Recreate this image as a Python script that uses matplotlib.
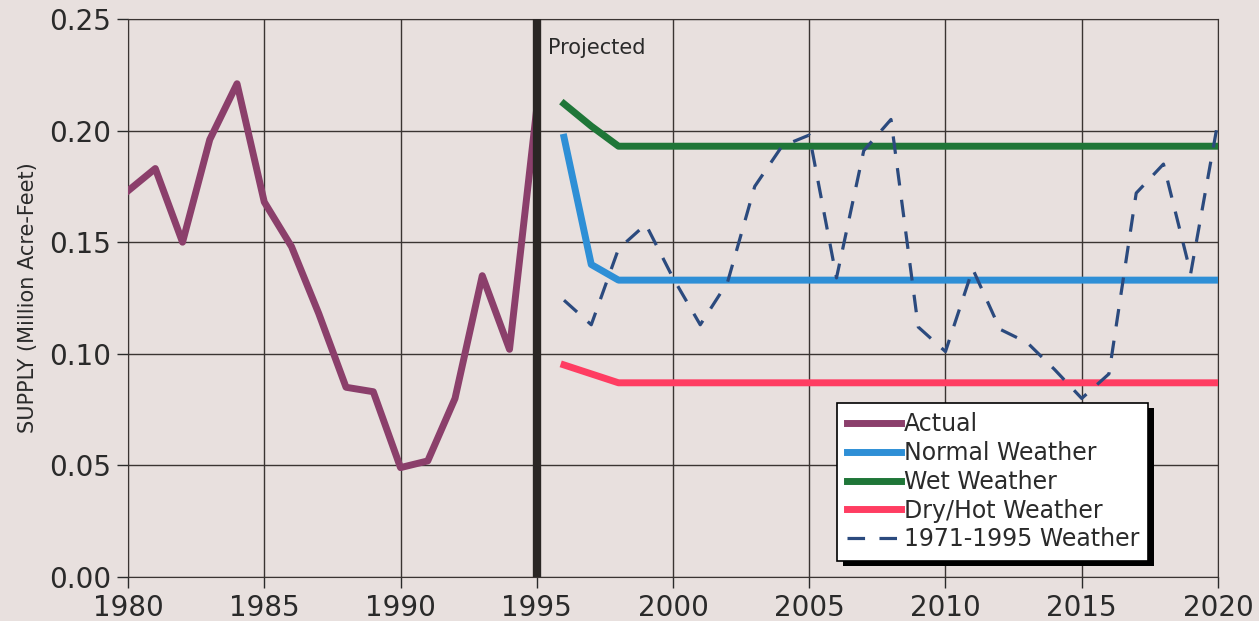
import matplotlib.pyplot as plt
import matplotlib.patheffects as pe

# actual supply 1980-1995
actual_years = list(range(1980, 1996))
actual = [0.173, 0.183, 0.150, 0.196, 0.221, 0.168, 0.148, 0.118,
          0.085, 0.083, 0.049, 0.052, 0.080, 0.135, 0.102, 0.210]

# projections 1996-2020
proj_years = list(range(1996, 2021))
normal = [0.197, 0.140] + [0.133] * 23
wet = [0.212, 0.202] + [0.193] * 23
dry = [0.095, 0.091] + [0.087] * 23
hist_weather = [0.124, 0.113, 0.147, 0.158, 0.134, 0.113, 0.132, 0.175,
                0.193, 0.198, 0.134, 0.191, 0.205, 0.112, 0.101, 0.138,
                0.111, 0.105, 0.093, 0.080, 0.091, 0.172, 0.185, 0.136,
                0.204]

bg = '#e8e0de'
plt.rcParams['font.family'] = 'DejaVu Sans'

fig = plt.figure(figsize=(12.59, 6.21), dpi=100, facecolor=bg)
ax = fig.add_axes([0.1017, 0.0709, 0.8657, 0.8985], facecolor=bg)

ax.plot(actual_years, actual, color='#8b3f6b', lw=5, label='Actual', zorder=3)
ax.plot(proj_years, normal, color='#2e8fd6', lw=5, label='Normal Weather', zorder=3)
ax.plot(proj_years, wet, color='#1f7638', lw=5, label='Wet Weather', zorder=3)
ax.plot(proj_years, dry, color='#ff3d62', lw=5, label='Dry/Hot Weather', zorder=3)
ax.plot(proj_years, hist_weather, color='#2b4a7e', lw=2.3, ls=(0, (5.5, 4.5)),
        label='1971-1995 Weather', zorder=3)

ax.axvline(1995, color='#2a2624', lw=6, zorder=4)
ax.text(1995.4, 0.237, 'Projected', fontsize=15, color='#2a2a2a', va='center')

ax.set_xlim(1980, 2020)
ax.set_ylim(0, 0.25)
ax.set_xticks(range(1980, 2021, 5))
ax.set_yticks([0, 0.05, 0.10, 0.15, 0.20, 0.25])
ax.set_yticklabels(['0.00', '0.05', '0.10', '0.15', '0.20', '0.25'])
ax.tick_params(labelsize=20, length=8, width=1, colors='#2a2a2a', pad=4)
ax.grid(True, color='#3a3432', lw=1)
for s in ax.spines.values():
    s.set_color('#3a3432')
ax.set_ylabel('SUPPLY (Million Acre-Feet)', fontsize=15, color='#2a2a2a', labelpad=8)

leg = ax.legend(loc='lower left', bbox_to_anchor=(0.64, 0.008), fontsize=17,
                frameon=True, fancybox=False, shadow=False,
                handlelength=2.3, handletextpad=0.1, labelspacing=0.2,
                borderpad=0.4, framealpha=1, edgecolor='black')
frame = leg.get_frame()
frame.set_linewidth(1.2)
frame.set_path_effects([pe.SimplePatchShadow(offset=(4, -4), shadow_rgbFace='black', alpha=1),
                        pe.Normal()])
for t in leg.get_texts():
    t.set_color('#2a2a2a')

fig.savefig('out.png', dpi=100, facecolor=bg)
